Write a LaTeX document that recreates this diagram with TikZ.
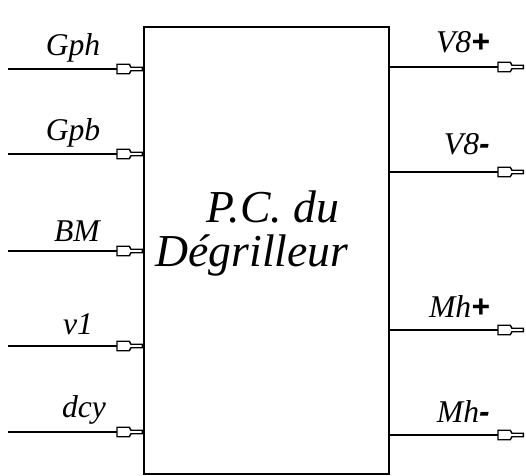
\documentclass[tikz,border=0pt]{standalone}
\usepackage{fontspec}
\setmainfont{Liberation Serif}
\setsansfont{Liberation Sans}
\usetikzlibrary{positioning}

% open plug-shaped tip
\pgfarrowsdeclare{plug}{plug}
{\pgfarrowsleftextend{-15pt}\pgfarrowsrightextend{0.4pt}}
{
  \pgfsetdash{}{0pt}
  \pgfsetmiterjoin
  \pgfpathmoveto{\pgfpoint{-14.4pt}{2.7pt}}
  \pgfpathlineto{\pgfpoint{-7.4pt}{2.7pt}}
  \pgfpathlineto{\pgfpoint{-6.5pt}{1pt}}
  \pgfpathlineto{\pgfpoint{0pt}{1pt}}
  \pgfpathlineto{\pgfpoint{0pt}{-1pt}}
  \pgfpathlineto{\pgfpoint{-6.5pt}{-1pt}}
  \pgfpathlineto{\pgfpoint{-7.4pt}{-2.7pt}}
  \pgfpathlineto{\pgfpoint{-14.4pt}{-2.7pt}}
  \pgfpathclose
  \pgfsetfillcolor{white}
  \pgfusepathqfillstroke
}

\newcommand{\sigplus}{{\sffamily\bfseries +}}
\newcommand{\sigminus}{{\sffamily\bfseries -}}

\begin{document}
\begin{tikzpicture}[
    block/.style={rectangle, draw, line width=1.1pt, minimum width=4.9cm, minimum height=8.94cm, inner sep=0pt},
    title/.style={font=\fontsize{26}{26}\selectfont\itshape, anchor=base, inner sep=0pt},
    lab/.style={font=\fontsize{18}{18}\selectfont\itshape, inner sep=0pt},
    sig/.style={-plug, line width=0.8pt}
]
    \useasboundingbox (0,0) rectangle (10.52,9.5);

    % P.C. block
    \node[block] (pc) at (5.33,4.49) {};
    \node[title] (t1) at (5.46,5.04) {P.C. du};
    \node[title] (t2) at (5.04,4.18) {Dégrilleur};

    % Inputs
    \coordinate (Gph-in) at (0.16,8.12);
    \coordinate (Gpb-in) at (0.16,6.42);
    \coordinate (BM-in) at (0.16,4.48);
    \coordinate (v1-in) at (0.16,2.58);
    \coordinate (dcy-in) at (0.16,0.86);

    \draw[sig] (Gph-in) -- (Gph-in -| pc.west);
    \draw[sig] (Gpb-in) -- (Gpb-in -| pc.west);
    \draw[sig] (BM-in) -- (BM-in -| pc.west);
    \draw[sig] (v1-in) -- (v1-in -| pc.west);
    \draw[sig] (dcy-in) -- (dcy-in -| pc.west);

    \node[lab, anchor=base] (Gph) at (1.46,8.38) {Gph};
    \node[lab, anchor=base] (Gpb) at (1.46,6.68) {Gpb};
    \node[lab, anchor=base] (BM) at (1.54,4.66) {BM};
    \node[lab, anchor=base] (v1) at (1.56,2.82) {v1};
    \node[lab, anchor=base] (dcy) at (1.68,1.16) {dcy};

    % Outputs
    \coordinate (V8p-out) at (10.48,8.16);
    \coordinate (V8m-out) at (10.48,6.06);
    \coordinate (Mhp-out) at (10.48,2.90);
    \coordinate (Mhm-out) at (10.48,0.80);

    \draw[sig] (V8p-out -| pc.east) -- (V8p-out);
    \draw[sig] (V8m-out -| pc.east) -- (V8m-out);
    \draw[sig] (Mhp-out -| pc.east) -- (Mhp-out);
    \draw[sig] (Mhm-out -| pc.east) -- (Mhm-out);

    \node[lab, anchor=base east] (V8p) at (9.8,8.44) {V8\sigplus};
    \node[lab, anchor=base east] (V8m) at (9.8,6.40) {V8\sigminus};
    \node[lab, anchor=base east] (Mhp) at (9.8,3.16) {Mh\sigplus};
    \node[lab, anchor=base east] (Mhm) at (9.8,1.06) {Mh\sigminus};
\end{tikzpicture}
\end{document}
